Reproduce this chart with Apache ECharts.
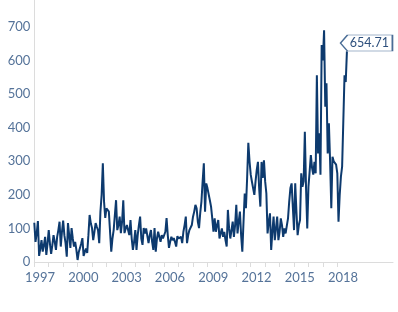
<!DOCTYPE html>
<html>
<head>
<meta charset="utf-8">
<script src="https://cdn.jsdelivr.net/npm/echarts@6/dist/echarts.min.js"></script>
<style>
html,body{margin:0;padding:0;background:#fff;}
#chart{width:398px;height:312px;}
</style>
</head>
<body>
<div id="chart"></div>
<script>
// Monthly series for "Cina", Jan 1997 - Sep 2018
const seriesName = 'Cina';
const startYear = 1997;
const values = [
  117, 60, 85, 122, 18, 40, 65, 31, 50, 75, 21, 55,      // 1997
  95, 55, 24, 50, 80, 60, 36, 75, 95, 120, 46, 90,       // 1998
  123, 80, 56, 16, 116, 80, 42, 101, 70, 46, 60, 36,     // 1999
  6, 30, 42, 55, 71, 18, 30, 40, 27, 80, 140, 115,       // 2000
  101, 65, 90, 116, 105, 95, 56, 150, 200, 294, 180, 131, // 2001
  160, 155, 150, 90, 31, 70, 95, 140, 184, 95, 110, 135, // 2002
  86, 120, 184, 86, 100, 110, 95, 80, 125, 70, 36, 60,   // 2003
  95, 36, 80, 110, 135, 70, 51, 101, 85, 100, 95, 56,    // 2004
  80, 95, 60, 36, 101, 31, 70, 90, 75, 60, 80, 70,       // 2005
  65, 90, 131, 80, 42, 60, 75, 65, 71, 60, 46, 77,       // 2006
  70, 65, 75, 56, 90, 110, 135, 56, 80, 95, 90, 110,     // 2007
  135, 150, 170, 160, 120, 101, 146, 180, 240, 294, 150, 234, // 2008
  220, 224, 184, 165, 130, 90, 130, 90, 110, 125, 70, 85, // 2009
  100, 75, 90, 65, 46, 155, 100, 70, 95, 120, 75, 110,   // 2010
  170, 85, 120, 150, 80, 31, 120, 204, 160, 250, 355, 300, // 2011
  260, 239, 234, 200, 240, 274, 298, 220, 165, 298, 250, 303, // 2012
  240, 204, 85, 120, 145, 36, 90, 135, 65, 100, 135, 65, // 2013
  90, 130, 110, 75, 100, 85, 80, 130, 180, 220, 234, 165, // 2014
  95, 234, 150, 80, 110, 125, 264, 224, 240, 388, 220, 100, // 2015
  224, 270, 318, 280, 260, 298, 264, 556, 323, 383, 260, 646, // 2016
  600, 690, 462, 532, 323, 413, 300, 160, 313, 300, 303, 290, // 2017
  264, 120, 200, 254, 284, 420, 556, 536, 627            // 2018
];
const endLabelValue = 654.71;
const yTicks = [0, 100, 200, 300, 400, 500, 600, 700];
const tickYears = [1997,1998,1999,2000,2001,2002,2003,2004,2005,2006,2007,2008,2009,2010,2011,2012,2013,2014,2015,2016,2017,2018];
const labelYears = [1997, 2000, 2003, 2006, 2009, 2012, 2015, 2018];

const seriesData = values.map((v, i) => [startYear + i / 12, v]);
const last = seriesData[seriesData.length - 1];

const txt = '#557399';
const font = 'Lato, "Open Sans", sans-serif';
const chart = echarts.init(document.getElementById('chart'), null, {renderer: 'canvas'});
chart.setOption({
  animation: false,
  backgroundColor: '#fff',
  grid: {left: 34.3, right: 5, top: 0, bottom: 50, containLabel: false},
  legend: {
    data: [seriesName],
    left: 183, top: 309,
    icon: 'rect', itemWidth: 22, itemHeight: 2, itemGap: 10,
    textStyle: {color: txt, fontSize: 14, fontFamily: font}
  },
  xAxis: {
    type: 'value', min: 1997, max: 2021.86,
    axisLine: {show: true, lineStyle: {color: '#dcdcdc', width: 1}},
    axisTick: {show: true, length: 5, lineStyle: {color: '#dcdcdc'}, customValues: tickYears},
    axisLabel: {
      color: txt, fontSize: 13, fontFamily: font, margin: 9,
      customValues: labelYears.map(y => y + 0.4),
      formatter: v => String(Math.floor(v))
    },
    splitLine: {show: false}
  },
  yAxis: {
    type: 'value', min: 0, max: 780,
    axisLine: {show: true, lineStyle: {color: '#dcdcdc', width: 1}},
    axisTick: {show: false},
    axisLabel: {color: txt, fontSize: 13, fontFamily: font, margin: 4, customValues: yTicks},
    splitLine: {show: false}
  },
  series: [{
    name: seriesName,
    type: 'line',
    clip: false,
    data: seriesData,
    showSymbol: false,
    lineStyle: {color: '#0d3a6e', width: 2},
    itemStyle: {color: '#0d3a6e'},
    markPoint: {
      silent: true,
      symbol: 'path://M0,8 L7,0 L52,0 L52,16 L7,16 Z',
      symbolSize: [52, 16],
      symbolOffset: [19.5, 1],
      itemStyle: {color: '#fff', borderColor: '#4a6d96', borderWidth: 1},
      label: {
        show: true, position: 'inside', offset: [3, 0],
        color: '#2d4f7c', fontSize: 12.5, fontFamily: font,
        formatter: () => endLabelValue.toFixed(2)
      },
      data: [{coord: [last[0], endLabelValue]}]
    }
  }]
});
</script>
</body>
</html>
